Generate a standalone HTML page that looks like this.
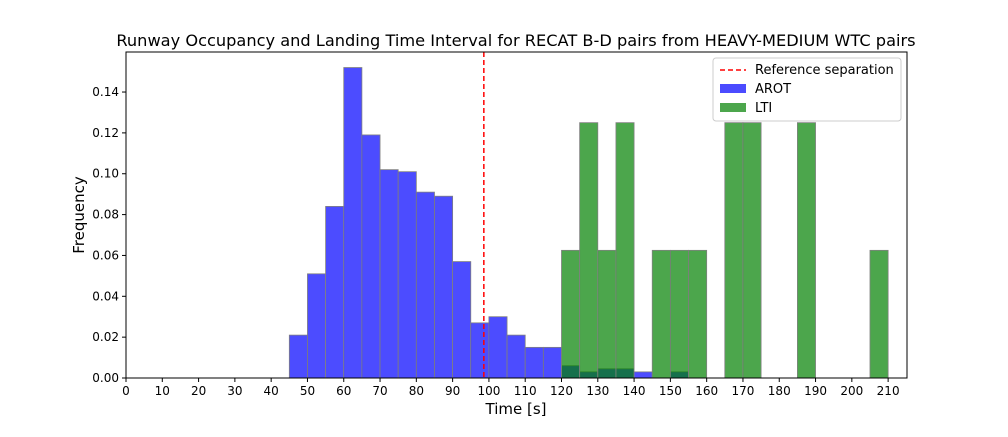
<!DOCTYPE html>
<html><head><meta charset="utf-8"><style>
body{margin:0;background:#fff;}
svg text{font-family:"DejaVu Sans","Liberation Sans",sans-serif;fill:#000;}
</style></head><body>
<svg id="chart" width="1008" height="432" xmlns="http://www.w3.org/2000/svg">
<rect width="1008" height="432" fill="#fff"/>
<text x="516" y="46" font-size="16.2" text-anchor="middle">Runway Occupancy and Landing Time Interval for RECAT B-D pairs from HEAVY-MEDIUM WTC pairs</text>
<g id="bars"></g>
<g id="axes"></g>
<text x="516" y="414" font-size="15" text-anchor="middle">Time [s]</text>
<text transform="translate(84,215) rotate(-90)" font-size="15" text-anchor="middle">Frequency</text>
<g>
<rect x="713" y="58" width="188" height="63" fill="#fff" stroke="#ccc" rx="3"/>
<line x1="720" y1="70" x2="746" y2="70" stroke="#ff0000" stroke-width="1.5" stroke-dasharray="5,3"/>
<text x="755" y="74" font-size="13">Reference separation</text>
<rect x="720" y="84" width="26" height="9" fill="#4b4bff"/>
<text x="755" y="93" font-size="13">AROT</text>
<rect x="720" y="103" width="26" height="9" fill="#4ca64c"/>
<text x="755" y="112" font-size="13">LTI</text>
</g>
</svg>
<script>
const binStarts=[45,50,55,60,65,70,75,80,85,90,95,100,105,110,115,120,125,130,135,140,145,150];
const arotValues=[0.021,0.051,0.084,0.152,0.119,0.102,0.101,0.091,0.089,0.057,0.027,0.030,0.021,0.015,0.015,0.006,0.003,0.0045,0.0045,0.003,0,0.003];
const ltiStarts=[120,125,130,135,145,150,155,165,170,185,205];
const ltiValues=[0.0625,0.125,0.0625,0.125,0.0625,0.0625,0.0625,0.125,0.125,0.125,0.0625];
const refSeparation=[98.6];
const xTicks=[0,10,20,30,40,50,60,70,80,90,100,110,120,130,140,150,160,170,180,190,200,210];
const yTicks=[0,0.02,0.04,0.06,0.08,0.10,0.12,0.14];
const binWidth=5;
const X0=126,X1=907,Y0=378,Y1=52,XMAX=215.2,YMAX=0.1596;
const x=v=>X0+v/XMAX*(X1-X0);
const y=v=>Y0-v/YMAX*(Y0-Y1);
const NS="http://www.w3.org/2000/svg";
const bars=document.getElementById('bars'),axes=document.getElementById('axes');
function mk(tag,attrs,parent){const e=document.createElementNS(NS,tag);for(const k in attrs)e.setAttribute(k,attrs[k]);parent.appendChild(e);return e;}
binStarts.forEach((s,i)=>{if(!arotValues[i])return;
const r=mk('rect',{x:x(s),y:y(arotValues[i]),width:x(s+binWidth)-x(s),height:Y0-y(arotValues[i]),fill:'#0000ff','fill-opacity':0.7,stroke:'#808080','stroke-width':0.8},bars);

});
ltiStarts.forEach((s,i)=>{
const r=mk('rect',{x:x(s),y:y(ltiValues[i]),width:x(s+binWidth)-x(s),height:Y0-y(ltiValues[i]),fill:'#008000','fill-opacity':0.7,stroke:'#808080','stroke-width':0.8},bars);

});
refSeparation.forEach(v=>{
const l=mk('line',{x1:x(v),x2:x(v),y1:Y1,y2:Y0,stroke:'#ff0000','stroke-width':1.5,'stroke-dasharray':'5,3'},bars);

});
const frame=mk('rect',{x:X0,y:Y1,width:X1-X0,height:Y0-Y1,fill:'none',stroke:'#000','stroke-width':1},axes);


xTicks.forEach(t=>{mk('line',{x1:x(t),x2:x(t),y1:Y0,y2:Y0+4,stroke:'#000'},axes);
const tx=mk('text',{x:x(t),y:Y0+17,'font-size':12,'text-anchor':'middle'},axes);tx.textContent=t;

});
yTicks.forEach(t=>{mk('line',{x1:X0-4,x2:X0,y1:y(t),y2:y(t),stroke:'#000'},axes);
const tx=mk('text',{x:X0-7,y:y(t)+4,'font-size':12,'text-anchor':'end'},axes);tx.textContent=t.toFixed(2);

});
</script>
</body></html>
